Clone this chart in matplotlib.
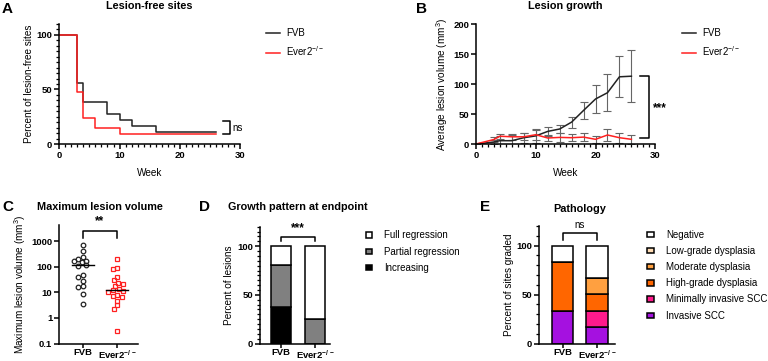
import matplotlib
matplotlib.use("Agg")
import matplotlib.pyplot as plt
from matplotlib.lines import Line2D
from matplotlib.patches import Patch
from matplotlib.ticker import MultipleLocator, FixedLocator, NullLocator
import numpy as np

plt.rcParams["font.family"] = ["Liberation Sans", "DejaVu Sans"]
plt.rcParams["font.weight"] = "bold"
plt.rcParams["mathtext.default"] = "regular"

# ---- data ----
km_weeks_fvb = [0, 3, 4, 8, 10, 12, 16, 26]
km_fvb = [100, 55.6, 38.9, 27.8, 22.2, 16.7, 11.1, 11.1]
km_weeks_ever2 = [0, 3, 4, 6, 10, 26]
km_ever2 = [100, 47.6, 23.8, 14.3, 9.5, 9.5]

growth_weeks = [0, 3, 4, 6, 8, 10, 12, 14, 16, 18, 20, 22, 24, 26]
growth_fvb = [0, 3.3, 5.5, 5.5, 10.5, 13.5, 21, 25, 36.5, 56, 75, 85.5, 112, 113]
growth_fvb_err = [0, 4, 8, 9, 8, 11, 7, 7, 9, 14, 23, 31, 34, 43]
growth_ever2 = [0, 7.5, 13, 12, 12, 15.5, 10, 11, 10.5, 11.5, 7.8, 15, 10.5, 7.8]
growth_ever2_err = [0, 4, 4, 5, 6, 8, 5, 8, 6, 7, 6, 10.5, 8.5, 7]

max_fvb = [723, 425, 235, 203, 165, 175, 150, 112, 115, 48, 40, 28, 16.5, 17.5, 8.6, 3.4]
max_ever2 = [203, 91.5, 79, 40, 29.8, 20.9, 24.3, 18, 12.3, 14, 11.6, 10.6, 8.1, 7.4,
             6.8, 4.8, 3.07, 2.3, 0.316]

groups = ["FVB", "Ever2$^{-/-}$"]

growth_cats = ["Increasing", "Partial regression", "Full regression"]
growth_vals = {"Increasing": [37.5, 0], "Partial regression": [43.5, 25],
               "Full regression": [19, 75]}
growth_colors = {"Increasing": "#000000", "Partial regression": "#808080",
                 "Full regression": "#ffffff"}

path_cats = ["Invasive SCC", "Minimally invasive SCC", "High-grade dysplasia",
             "Moderate dysplasia", "Low-grade dysplasia", "Negative"]
path_vals = {"Invasive SCC": [33.3, 16.7], "Minimally invasive SCC": [0, 16.7],
             "High-grade dysplasia": [50, 16.7], "Moderate dysplasia": [0, 16.6],
             "Low-grade dysplasia": [0, 0], "Negative": [16.7, 33.3]}
path_colors = {"Invasive SCC": "#a511e0", "Minimally invasive SCC": "#ff1a8c",
               "High-grade dysplasia": "#ff6600", "Moderate dysplasia": "#ffa040",
               "Low-grade dysplasia": "#ffdcb4", "Negative": "#ffffff"}

W, H = 768, 361
fig = plt.figure(figsize=(W / 100, H / 100), dpi=100)

TICK = 6.8
LAB = 7.2
LEG = 7.0
BOT = 343.5  # bottom of the lower row of axes, in pixels


def add_ax(l, t, r, b):
    return fig.add_axes([l / W, 1 - b / H, (r - l) / W, (b - t) / H])


def style(ax):
    for s in ["top", "right"]:
        ax.spines[s].set_visible(False)
    for s in ["left", "bottom"]:
        ax.spines[s].set_linewidth(1.1)
    ax.tick_params(which="major", direction="out", width=1.1, length=3.5,
                   labelsize=TICK, pad=1.5)
    ax.tick_params(which="minor", direction="out", width=0.9, length=2)


def ftext(x, y, s, size, **kw):
    fig.text(x / W, 1 - y / H, s, fontsize=size, fontweight="bold", **kw)


def line_legend(ax, x, y):
    ax.legend(handles=[Line2D([], [], color="#222222", lw=1.1),
                       Line2D([], [], color="#ff2020", lw=1.1)],
              labels=groups, loc="upper left", bbox_to_anchor=(x / W, 1 - y / H),
              bbox_transform=fig.transFigure, frameon=False,
              prop={"weight": "normal", "size": LEG}, handlelength=1.45,
              handletextpad=0.6, labelspacing=0.65, borderpad=0, borderaxespad=0)


def box_legend(ax, cats, colors, x, y):
    ax.legend(handles=[Patch(facecolor=colors[c], edgecolor="black", lw=1.1) for c in cats],
              labels=cats, loc="upper left", bbox_to_anchor=(x / W, 1 - y / H),
              bbox_transform=fig.transFigure, frameon=False,
              prop={"weight": "normal", "size": LEG}, handlelength=0.65, handleheight=0.45,
              handletextpad=1.3, labelspacing=0.63, borderpad=0, borderaxespad=0)


# ---- A ----
axA = add_ax(59.3, 24, 240, 144)
style(axA)
axA.plot(km_weeks_fvb, km_fvb, drawstyle="steps-post", color="#222222", lw=1.1)
axA.plot(km_weeks_ever2, km_ever2, drawstyle="steps-post", color="#ff2020", lw=1.1)
axA.set_xlim(0, 30)
axA.set_ylim(0, 110)
axA.set_xticks([0, 10, 20, 30])
axA.set_yticks([0, 50, 100])
axA.xaxis.set_minor_locator(MultipleLocator(1))
axA.yaxis.set_minor_locator(MultipleLocator(5))
axA.set_xlabel("Week", fontsize=LAB, labelpad=6)
axA.set_ylabel("Percent of lesion-free sites", fontsize=LAB, labelpad=2)
axA.plot([27.1, 28.3, 28.3, 27.1], [21, 21, 9, 9], color="black", lw=1.1, clip_on=False)
axA.text(28.7, 15, "ns", fontsize=7, fontweight="normal", va="center")
line_legend(axA, 266, 28)
ftext(2, 13, "A", 11)
ftext(149.6, 9, "Lesion-free sites", 7.8, ha="center")

# ---- B ----
axB = add_ax(476, 24, 655.3, 144)
style(axB)
axB.errorbar(growth_weeks, growth_fvb, yerr=growth_fvb_err, fmt="none",
             ecolor="#666666", elinewidth=0.8, capsize=2.8, capthick=0.8)
axB.errorbar(growth_weeks, growth_ever2, yerr=growth_ever2_err, fmt="none",
             ecolor="#666666", elinewidth=0.8, capsize=2.8, capthick=0.8)
axB.plot(growth_weeks, growth_fvb, color="#222222", lw=1.1)
axB.plot(growth_weeks, growth_ever2, color="#ff2020", lw=1.1)
axB.set_xlim(0, 30)
axB.set_ylim(0, 200)
axB.set_xticks([0, 10, 20, 30])
axB.set_yticks([0, 50, 100, 150, 200])
axB.xaxis.set_minor_locator(MultipleLocator(1))
axB.set_xlabel("Week", fontsize=LAB, labelpad=6)
axB.set_ylabel("Average lesion volume (mm$^3$)", fontsize=LAB, labelpad=2)
axB.plot([27.5, 29.0, 29.0, 27.5], [113, 113, 10.5, 10.5], color="black", lw=1.1,
         clip_on=False)
axB.text(29.6, 59, "***", fontsize=8.5, va="center")
line_legend(axB, 682, 28)
ftext(416, 13, "B", 11)
ftext(565.5, 9, "Lesion growth", 7.8, ha="center")

# ---- C ----
axC = add_ax(59.3, 225.3, 137.5, BOT)
style(axC)
c_lo, c_hi = 0.1, 4200
c_xlim = (-0.68, 1.59)
axC.set_yscale("log")
axC.set_ylim(c_lo, c_hi)
axC.set_xlim(*c_xlim)
axC.yaxis.set_major_locator(FixedLocator([0.1, 1, 10, 100, 1000]))
axC.yaxis.set_minor_locator(NullLocator())
axC.set_yticklabels(["0.1", "1", "10", "100", "1000"])
axC.set_xticks([0, 1])
axC.set_xticklabels(groups)
axC.tick_params(axis="x", pad=0.5, length=3)
axC.set_ylabel("Maximum lesion volume (mm$^3$)", fontsize=LAB, labelpad=2)

ax_h = BOT - 225.3
unit_px = (137.5 - 59.3) / (c_xlim[1] - c_xlim[0])


def swarm(vals, d=4.6):
    ys = (np.log10(vals) - np.log10(c_lo)) / (np.log10(c_hi) - np.log10(c_lo)) * ax_h
    placed = []
    offs = np.zeros(len(vals))
    cands = sorted(np.arange(-15, 15.01, 0.5), key=lambda v: (abs(v), v))
    for i in np.argsort(-ys):
        for c in cands:
            if all((c - px) ** 2 + (ys[i] - py) ** 2 >= d * d for px, py in placed):
                offs[i] = c
                placed.append((c, ys[i]))
                break
    return offs / unit_px


for i, (vals, mk, col) in enumerate([(max_fvb, "o", "#222222"), (max_ever2, "s", "#ff2020")]):
    xs = i + swarm(vals)
    axC.plot(xs, vals, ls="none", marker=mk, ms=3.3 if mk == "o" else 3.1,
             mfc="none", mec=col, mew=0.9, clip_on=False)
    med = np.median(vals)
    axC.plot([i - 0.32, i + 0.32], [med, med], color="black", lw=1.0)
axC.plot([0, 0, 1, 1], [1380, 2570, 2570, 1380], color="black", lw=1.1, clip_on=False)
axC.text(0.5, 3400, "**", fontsize=8.5, ha="center", va="bottom")
ftext(2, 211.5, "C", 11)
ftext(99.5, 209.5, "Maximum lesion volume", 7.8, ha="center")

# ---- D ----
axD = add_ax(260, 226.7, 330, BOT)
style(axD)
bottom = np.zeros(2)
for cat in growth_cats:
    axD.bar([0, 1], growth_vals[cat], bottom=bottom, width=0.59,
            color=growth_colors[cat], edgecolor="black", lw=1.1)
    bottom += np.array(growth_vals[cat])
axD.set_xlim(-0.6, 1.43)
axD.set_ylim(0, 120)
axD.set_yticks([0, 50, 100])
axD.yaxis.set_minor_locator(MultipleLocator(5))
axD.set_xticks([0, 1])
axD.set_xticklabels(groups)
axD.tick_params(axis="x", pad=0.5, length=3)
axD.set_ylabel("Percent of lesions", fontsize=LAB, labelpad=2)
axD.plot([0, 0, 1, 1], [105.5, 109.7, 109.7, 105.5], color="black", lw=1.1, clip_on=False)
axD.text(0.5, 112, "***", fontsize=8.5, ha="center", va="bottom")
box_legend(axD, growth_cats[::-1], growth_colors, 365.5, 230.5)
ftext(199.5, 211.5, "D", 11)
ftext(298, 209.5, "Growth pattern at endpoint", 7.8, ha="center")

# ---- E ----
axE = add_ax(539.3, 226, 615, BOT)
style(axE)
bottom = np.zeros(2)
for cat in path_cats:
    axE.bar([0, 1], path_vals[cat], bottom=bottom, width=0.63,
            color=path_colors[cat], edgecolor="black", lw=1.1)
    bottom += np.array(path_vals[cat])
axE.set_xlim(-0.68, 1.53)
axE.set_ylim(0, 120)
axE.set_yticks([0, 50, 100])
axE.yaxis.set_minor_locator(MultipleLocator(10))
axE.set_xticks([0, 1])
axE.set_xticklabels(groups)
axE.tick_params(axis="x", pad=0.5, length=3)
axE.set_ylabel("Percent of sites graded", fontsize=LAB, labelpad=2)
axE.plot([0, 0, 1, 1], [105.3, 112.4, 112.4, 105.3], color="black", lw=1.1, clip_on=False)
axE.text(0.5, 115.5, "ns", fontsize=7, fontweight="normal", ha="center", va="bottom")
box_legend(axE, path_cats[::-1], path_colors, 647.3, 230)
ftext(480, 211.5, "E", 11)
ftext(580, 212, "Pathology", 7.8, ha="center")

fig.savefig("out.png", dpi=100)
